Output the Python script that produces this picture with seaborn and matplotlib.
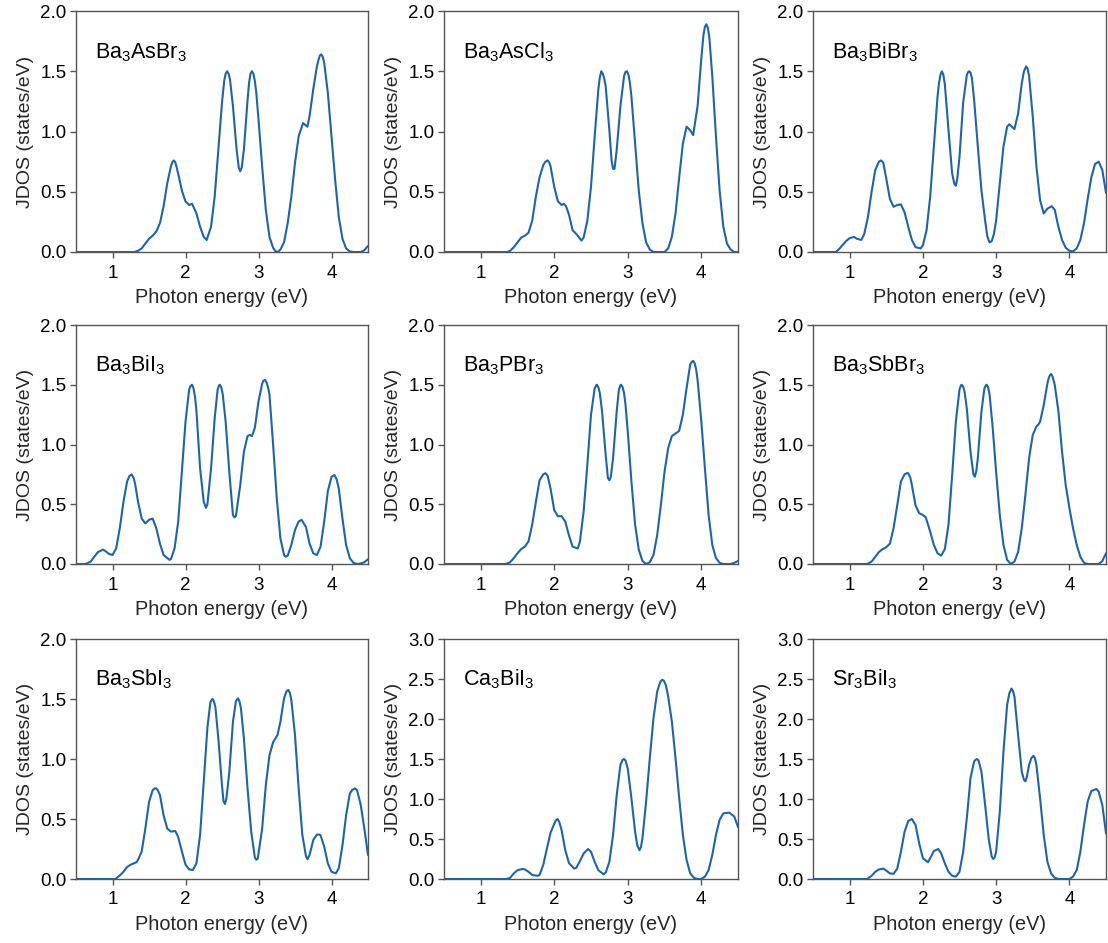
import numpy as np
import pandas as pd
import matplotlib
matplotlib.use("Agg")
import matplotlib.pyplot as plt
import seaborn as sns

# Joint density of states, (photon energy in eV, JDOS in states/eV)
ba3asbr3 = [(0.50, 0), (1.30, 0), (1.35, 0.01), (1.40, 0.03), (1.45, 0.07), (1.50, 0.11),
            (1.55, 0.135), (1.60, 0.17), (1.65, 0.24), (1.70, 0.38), (1.75, 0.57), (1.80, 0.71),
            (1.82, 0.745), (1.84, 0.76), (1.86, 0.745), (1.88, 0.70), (1.90, 0.65), (1.95, 0.51),
            (2.00, 0.42), (2.05, 0.39), (2.09, 0.40), (2.15, 0.32), (2.20, 0.21), (2.25, 0.125),
            (2.29, 0.10), (2.35, 0.21), (2.40, 0.46), (2.45, 0.85), (2.50, 1.24), (2.53, 1.42),
            (2.55, 1.48), (2.57, 1.50), (2.59, 1.48), (2.61, 1.43), (2.65, 1.21), (2.70, 0.85),
            (2.73, 0.70), (2.75, 0.67), (2.77, 0.70), (2.80, 0.85), (2.85, 1.26), (2.87, 1.40),
            (2.89, 1.48), (2.91, 1.50), (2.93, 1.48), (2.95, 1.42), (2.97, 1.32), (3.00, 1.10),
            (3.05, 0.71), (3.10, 0.35), (3.15, 0.125), (3.20, 0.035), (3.23, 0.008), (3.26, 0),
            (3.30, 0.02), (3.35, 0.08), (3.40, 0.24), (3.45, 0.46), (3.50, 0.74), (3.55, 0.96),
            (3.61, 1.07), (3.67, 1.04), (3.70, 1.13), (3.75, 1.35), (3.80, 1.54), (3.82, 1.59),
            (3.84, 1.63), (3.86, 1.64), (3.88, 1.62), (3.90, 1.57), (3.95, 1.32), (4.00, 0.96),
            (4.05, 0.60), (4.10, 0.29), (4.15, 0.11), (4.20, 0.03), (4.25, 0.005), (4.30, 0),
            (4.40, 0), (4.45, 0.015), (4.50, 0.05)]

ba3ascl3 = [(0.50, 0), (1.36, 0), (1.40, 0.01), (1.45, 0.04), (1.50, 0.08), (1.55, 0.12),
            (1.60, 0.135), (1.65, 0.16), (1.70, 0.26), (1.75, 0.46), (1.80, 0.62), (1.85, 0.72),
            (1.88, 0.75), (1.91, 0.76), (1.93, 0.745), (1.95, 0.71), (2.00, 0.54), (2.05, 0.42),
            (2.10, 0.39), (2.13, 0.40), (2.16, 0.38), (2.20, 0.31), (2.25, 0.18), (2.30, 0.15),
            (2.37, 0.095), (2.40, 0.12), (2.45, 0.26), (2.50, 0.54), (2.55, 0.96), (2.60, 1.35),
            (2.62, 1.45), (2.64, 1.50), (2.66, 1.48), (2.68, 1.44), (2.70, 1.375), (2.75, 1.01),
            (2.78, 0.76), (2.80, 0.69), (2.82, 0.69), (2.85, 0.85), (2.90, 1.21), (2.95, 1.46),
            (2.97, 1.495), (2.99, 1.50), (3.01, 1.47), (3.03, 1.40), (3.05, 1.29), (3.10, 0.90),
            (3.15, 0.51), (3.20, 0.24), (3.25, 0.08), (3.30, 0.02), (3.35, 0), (3.50, 0),
            (3.55, 0.03), (3.60, 0.125), (3.65, 0.32), (3.70, 0.62), (3.75, 0.90), (3.80, 1.04),
            (3.85, 1.01), (3.89, 0.97), (3.95, 1.21), (4.00, 1.60), (4.03, 1.80), (4.05, 1.87),
            (4.07, 1.89), (4.09, 1.86), (4.11, 1.78), (4.15, 1.46), (4.20, 0.96), (4.25, 0.51),
            (4.30, 0.21), (4.35, 0.07), (4.40, 0.02), (4.45, 0), (4.50, 0)]

ba3bibr3 = [(0.50, 0), (0.81, 0), (0.85, 0.02), (0.90, 0.055), (0.95, 0.09), (1.00, 0.115),
            (1.06, 0.125), (1.10, 0.11), (1.16, 0.10), (1.20, 0.15), (1.25, 0.29), (1.30, 0.50),
            (1.35, 0.68), (1.40, 0.75), (1.43, 0.76), (1.46, 0.74), (1.50, 0.61), (1.55, 0.44),
            (1.60, 0.375), (1.65, 0.39), (1.70, 0.395), (1.75, 0.33), (1.80, 0.21), (1.85, 0.10),
            (1.90, 0.04), (1.97, 0.03), (2.00, 0.055), (2.05, 0.18), (2.10, 0.46), (2.15, 0.875),
            (2.20, 1.29), (2.22, 1.40), (2.24, 1.47), (2.26, 1.50), (2.28, 1.47), (2.30, 1.39),
            (2.35, 1.01), (2.40, 0.65), (2.43, 0.565), (2.45, 0.55), (2.47, 0.61), (2.50, 0.79),
            (2.55, 1.24), (2.60, 1.47), (2.62, 1.495), (2.63, 1.50), (2.65, 1.49), (2.67, 1.44),
            (2.70, 1.26), (2.75, 0.875), (2.80, 0.51), (2.85, 0.26), (2.88, 0.13), (2.91, 0.08),
            (2.94, 0.09), (2.97, 0.15), (3.00, 0.26), (3.05, 0.57), (3.10, 0.875), (3.15, 1.04),
            (3.18, 1.06), (3.25, 1.02), (3.30, 1.15), (3.35, 1.40), (3.38, 1.50), (3.41, 1.54),
            (3.43, 1.52), (3.45, 1.46), (3.50, 1.125), (3.55, 0.71), (3.60, 0.43), (3.65, 0.32),
            (3.70, 0.36), (3.76, 0.38), (3.80, 0.35), (3.85, 0.21), (3.90, 0.10), (3.95, 0.035),
            (4.00, 0.01), (4.05, 0.005), (4.10, 0.03), (4.15, 0.10), (4.20, 0.24), (4.25, 0.44),
            (4.30, 0.62), (4.35, 0.73), (4.40, 0.75), (4.45, 0.68), (4.50, 0.49)]

ba3bii3 = [(0.50, 0), (0.62, 0), (0.65, 0.005), (0.70, 0.02), (0.75, 0.06), (0.80, 0.10),
           (0.87, 0.12), (0.90, 0.11), (0.95, 0.085), (1.00, 0.075), (1.05, 0.13), (1.10, 0.30),
           (1.15, 0.52), (1.20, 0.69), (1.23, 0.735), (1.26, 0.75), (1.29, 0.72), (1.31, 0.67),
           (1.35, 0.52), (1.40, 0.38), (1.45, 0.34), (1.50, 0.37), (1.55, 0.38), (1.60, 0.30),
           (1.65, 0.17), (1.70, 0.075), (1.78, 0.035), (1.80, 0.04), (1.85, 0.13), (1.90, 0.355),
           (1.95, 0.77), (2.00, 1.19), (2.05, 1.46), (2.07, 1.49), (2.09, 1.50), (2.11, 1.47),
           (2.13, 1.40), (2.15, 1.28), (2.20, 0.80), (2.25, 0.52), (2.28, 0.47), (2.30, 0.50),
           (2.35, 0.80), (2.40, 1.22), (2.44, 1.46), (2.46, 1.495), (2.47, 1.50), (2.49, 1.48),
           (2.51, 1.42), (2.55, 1.19), (2.60, 0.77), (2.65, 0.41), (2.67, 0.39), (2.69, 0.40),
           (2.75, 0.66), (2.80, 0.94), (2.85, 1.07), (2.88, 1.08), (2.91, 1.07), (2.95, 1.14),
           (3.00, 1.36), (3.05, 1.51), (3.07, 1.535), (3.09, 1.54), (3.11, 1.52), (3.13, 1.48),
           (3.15, 1.42), (3.20, 1.00), (3.25, 0.55), (3.30, 0.215), (3.35, 0.075), (3.37, 0.06),
           (3.40, 0.07), (3.45, 0.16), (3.50, 0.285), (3.55, 0.355), (3.59, 0.37), (3.65, 0.31),
           (3.70, 0.17), (3.75, 0.09), (3.80, 0.075), (3.85, 0.145), (3.90, 0.355), (3.95, 0.61),
           (4.00, 0.73), (4.04, 0.745), (4.07, 0.71), (4.10, 0.63), (4.15, 0.38), (4.20, 0.16),
           (4.25, 0.05), (4.30, 0.01), (4.35, 0), (4.40, 0.005), (4.45, 0.015), (4.50, 0.04)]

ba3pbr3 = [(0.50, 0), (1.34, 0), (1.40, 0.015), (1.45, 0.05), (1.50, 0.09), (1.55, 0.125),
           (1.60, 0.145), (1.65, 0.19), (1.70, 0.33), (1.75, 0.52), (1.80, 0.70), (1.85, 0.75),
           (1.88, 0.76), (1.91, 0.74), (1.95, 0.63), (2.00, 0.45), (2.05, 0.40), (2.10, 0.40),
           (2.15, 0.355), (2.20, 0.24), (2.25, 0.145), (2.32, 0.13), (2.35, 0.19), (2.40, 0.44),
           (2.45, 0.83), (2.50, 1.25), (2.55, 1.47), (2.57, 1.495), (2.58, 1.50), (2.60, 1.48),
           (2.62, 1.43), (2.65, 1.28), (2.70, 0.91), (2.73, 0.72), (2.75, 0.70), (2.77, 0.73),
           (2.80, 0.885), (2.85, 1.28), (2.88, 1.46), (2.90, 1.495), (2.91, 1.50), (2.93, 1.48),
           (2.95, 1.43), (2.97, 1.33), (3.00, 1.11), (3.05, 0.69), (3.10, 0.33), (3.15, 0.12),
           (3.20, 0.025), (3.25, 0), (3.30, 0.015), (3.35, 0.075), (3.40, 0.24), (3.45, 0.49),
           (3.50, 0.77), (3.55, 0.97), (3.60, 1.07), (3.67, 1.10), (3.70, 1.115), (3.75, 1.25),
           (3.80, 1.47), (3.85, 1.67), (3.87, 1.69), (3.89, 1.70), (3.91, 1.68), (3.93, 1.63),
           (3.95, 1.54), (4.00, 1.20), (4.05, 0.80), (4.10, 0.41), (4.15, 0.16), (4.20, 0.05),
           (4.25, 0.01), (4.30, 0), (4.40, 0), (4.45, 0.01), (4.50, 0.025)]

ba3sbbr3 = [(0.50, 0), (1.24, 0), (1.30, 0.02), (1.35, 0.06), (1.40, 0.10), (1.45, 0.125),
            (1.49, 0.135), (1.55, 0.17), (1.60, 0.30), (1.65, 0.49), (1.70, 0.69), (1.75, 0.75),
            (1.78, 0.76), (1.80, 0.76), (1.83, 0.72), (1.85, 0.66), (1.90, 0.49), (1.95, 0.425),
            (2.00, 0.41), (2.04, 0.39), (2.10, 0.27), (2.15, 0.16), (2.20, 0.09), (2.25, 0.07),
            (2.30, 0.125), (2.35, 0.33), (2.40, 0.745), (2.45, 1.19), (2.50, 1.46), (2.52, 1.495),
            (2.53, 1.50), (2.55, 1.485), (2.57, 1.44), (2.60, 1.30), (2.65, 0.94), (2.69, 0.75),
            (2.71, 0.73), (2.73, 0.78), (2.75, 0.885), (2.80, 1.28), (2.84, 1.47), (2.86, 1.495),
            (2.87, 1.50), (2.89, 1.48), (2.91, 1.42), (2.95, 1.165), (3.00, 0.77), (3.05, 0.41),
            (3.10, 0.16), (3.15, 0.035), (3.20, 0), (3.25, 0.02), (3.30, 0.10), (3.35, 0.30),
            (3.40, 0.58), (3.45, 0.885), (3.50, 1.08), (3.55, 1.15), (3.58, 1.17), (3.60, 1.19),
            (3.65, 1.33), (3.70, 1.51), (3.72, 1.56), (3.74, 1.585), (3.75, 1.59), (3.77, 1.57),
            (3.80, 1.50), (3.85, 1.28), (3.90, 0.94), (3.95, 0.66), (4.00, 0.47), (4.05, 0.30),
            (4.10, 0.16), (4.15, 0.06), (4.20, 0.01), (4.25, 0), (4.40, 0), (4.45, 0.025),
            (4.50, 0.09)]

ba3sbi3 = [(0.50, 0), (1.04, 0), (1.10, 0.03), (1.15, 0.06), (1.20, 0.10), (1.25, 0.12),
           (1.33, 0.14), (1.35, 0.16), (1.40, 0.23), (1.45, 0.42), (1.50, 0.64), (1.55, 0.74),
           (1.58, 0.755), (1.60, 0.755), (1.62, 0.74), (1.65, 0.70), (1.70, 0.53), (1.75, 0.42),
           (1.80, 0.395), (1.86, 0.40), (1.90, 0.35), (1.95, 0.23), (2.00, 0.12), (2.05, 0.08),
           (2.10, 0.075), (2.15, 0.13), (2.20, 0.37), (2.25, 0.81), (2.30, 1.26), (2.34, 1.47),
           (2.36, 1.495), (2.37, 1.50), (2.39, 1.48), (2.41, 1.43), (2.45, 1.17), (2.50, 0.78),
           (2.52, 0.65), (2.54, 0.625), (2.56, 0.67), (2.60, 0.89), (2.65, 1.31), (2.69, 1.48),
           (2.71, 1.50), (2.72, 1.505), (2.74, 1.48), (2.76, 1.42), (2.80, 1.17), (2.85, 0.755),
           (2.90, 0.395), (2.95, 0.18), (2.97, 0.16), (2.99, 0.17), (3.05, 0.42), (3.10, 0.78),
           (3.15, 1.03), (3.20, 1.14), (3.26, 1.20), (3.30, 1.31), (3.35, 1.505), (3.38, 1.56),
           (3.40, 1.573), (3.41, 1.575), (3.43, 1.55), (3.45, 1.49), (3.50, 1.20), (3.55, 0.755),
           (3.60, 0.37), (3.65, 0.19), (3.67, 0.165), (3.70, 0.20), (3.75, 0.325), (3.80, 0.37),
           (3.83, 0.37), (3.85, 0.365), (3.90, 0.27), (3.95, 0.13), (4.00, 0.06), (4.06, 0.047),
           (4.10, 0.09), (4.15, 0.28), (4.20, 0.53), (4.25, 0.71), (4.28, 0.74), (4.32, 0.755),
           (4.35, 0.74), (4.40, 0.62), (4.45, 0.42), (4.50, 0.20)]

ca3bii3 = [(0.50, 0), (1.35, 0), (1.40, 0.015), (1.45, 0.07), (1.50, 0.11), (1.57, 0.125),
           (1.60, 0.12), (1.65, 0.09), (1.70, 0.05), (1.77, 0.04), (1.80, 0.05), (1.85, 0.175),
           (1.90, 0.38), (1.95, 0.58), (2.00, 0.69), (2.02, 0.73), (2.045, 0.75), (2.07, 0.71),
           (2.10, 0.61), (2.15, 0.36), (2.20, 0.20), (2.27, 0.13), (2.30, 0.14), (2.35, 0.225),
           (2.40, 0.32), (2.46, 0.375), (2.50, 0.34), (2.55, 0.215), (2.60, 0.11), (2.67, 0.06),
           (2.70, 0.08), (2.75, 0.215), (2.80, 0.55), (2.85, 1.05), (2.90, 1.425), (2.93, 1.49),
           (2.95, 1.50), (2.97, 1.48), (3.00, 1.38), (3.05, 1.01), (3.10, 0.59), (3.13, 0.42),
           (3.16, 0.36), (3.18, 0.40), (3.20, 0.51), (3.25, 0.97), (3.30, 1.51), (3.35, 2.01),
           (3.40, 2.34), (3.43, 2.43), (3.45, 2.475), (3.47, 2.49), (3.49, 2.48), (3.52, 2.42),
           (3.55, 2.28), (3.60, 1.97), (3.65, 1.51), (3.70, 1.01), (3.75, 0.55), (3.80, 0.24),
           (3.85, 0.07), (3.90, 0.015), (3.95, 0), (4.00, 0), (4.05, 0.03), (4.10, 0.11),
           (4.15, 0.30), (4.20, 0.55), (4.25, 0.74), (4.30, 0.82), (4.38, 0.83), (4.45, 0.78),
           (4.50, 0.65)]

sr3bii3 = [(0.50, 0), (1.24, 0), (1.30, 0.04), (1.35, 0.09), (1.40, 0.12), (1.46, 0.13),
           (1.50, 0.105), (1.55, 0.07), (1.60, 0.065), (1.65, 0.13), (1.70, 0.34), (1.75, 0.59),
           (1.80, 0.725), (1.85, 0.75), (1.90, 0.675), (1.95, 0.445), (2.00, 0.26), (2.07, 0.21),
           (2.10, 0.26), (2.15, 0.35), (2.21, 0.375), (2.25, 0.32), (2.30, 0.195), (2.35, 0.09),
           (2.40, 0.04), (2.45, 0.03), (2.50, 0.09), (2.55, 0.34), (2.60, 0.76), (2.65, 1.26),
           (2.70, 1.47), (2.72, 1.49), (2.74, 1.50), (2.76, 1.48), (2.80, 1.34), (2.85, 0.925),
           (2.90, 0.49), (2.94, 0.28), (2.96, 0.25), (2.98, 0.27), (3.00, 0.34), (3.05, 0.84),
           (3.10, 1.59), (3.15, 2.175), (3.18, 2.32), (3.21, 2.38), (3.23, 2.35), (3.25, 2.28),
           (3.30, 1.80), (3.35, 1.34), (3.38, 1.24), (3.40, 1.22), (3.42, 1.28), (3.45, 1.425),
           (3.48, 1.51), (3.51, 1.54), (3.53, 1.51), (3.55, 1.425), (3.60, 1.01), (3.65, 0.55),
           (3.70, 0.215), (3.75, 0.07), (3.80, 0.015), (3.85, 0), (4.00, 0), (4.05, 0.03),
           (4.10, 0.11), (4.15, 0.34), (4.20, 0.675), (4.25, 0.97), (4.30, 1.10), (4.37, 1.125),
           (4.40, 1.09), (4.45, 0.925), (4.50, 0.57)]

compounds = [
    (r"Ba$_3$AsBr$_3$", ba3asbr3, 2.0),
    (r"Ba$_3$AsCl$_3$", ba3ascl3, 2.0),
    (r"Ba$_3$BiBr$_3$", ba3bibr3, 2.0),
    (r"Ba$_3$BiI$_3$", ba3bii3, 2.0),
    (r"Ba$_3$PBr$_3$", ba3pbr3, 2.0),
    (r"Ba$_3$SbBr$_3$", ba3sbbr3, 2.0),
    (r"Ba$_3$SbI$_3$", ba3sbi3, 2.0),
    (r"Ca$_3$BiI$_3$", ca3bii3, 3.0),
    (r"Sr$_3$BiI$_3$", sr3bii3, 3.0),
]

sns.set_style("ticks")
plt.rcParams["font.family"] = ["Liberation Sans", "DejaVu Sans"]
plt.rcParams["mathtext.fontset"] = "custom"
plt.rcParams["mathtext.rm"] = "Liberation Sans"
plt.rcParams["mathtext.it"] = "Liberation Sans:italic"
plt.rcParams["mathtext.bf"] = "Liberation Sans:bold"
plt.rcParams["axes.edgecolor"] = "#555555"
plt.rcParams["axes.linewidth"] = 1.0
plt.rcParams["xtick.color"] = "#555555"
plt.rcParams["ytick.color"] = "#555555"
plt.rcParams["xtick.labelcolor"] = "black"
plt.rcParams["ytick.labelcolor"] = "black"

W, H = 1108, 943
fig = plt.figure(figsize=(W / 100, H / 100), dpi=100)

col_left = [76, 444, 813]
col_width = [292, 294, 293]
row_top = [11, 325, 639]
row_height = [241, 239, 240]

line_color = "#1f63b0"

for i, (name, pts, ymax) in enumerate(compounds):
    r, c = divmod(i, 3)
    ax = fig.add_axes([col_left[c] / W, 1 - (row_top[r] + row_height[r]) / H,
                       col_width[c] / W, row_height[r] / H])
    df = pd.DataFrame(pts, columns=["energy", "jdos"])
    sns.lineplot(data=df, x="energy", y="jdos", ax=ax, color=line_color,
                 linewidth=1.5, estimator=None, sort=False)
    ax.lines[-1].set_solid_joinstyle("round")
    ax.set_xlim(0.5, 4.5)
    ax.set_ylim(0, ymax)
    ax.set_xticks([1, 2, 3, 4])
    ax.set_yticks(np.arange(0, ymax + 0.01, 0.5))
    ax.yaxis.set_major_formatter(matplotlib.ticker.FormatStrFormatter("%.1f"))
    ax.tick_params(axis="both", labelsize=13.5, length=4, width=1.0, direction="out",
                   top=False, right=False, pad=3)
    ax.tick_params(axis="x", pad=5)
    ax.set_xlabel("Photon energy (eV)", fontsize=14.3, labelpad=5)
    ax.set_ylabel("JDOS (states/eV)", fontsize=14, labelpad=4)
    for s in ax.spines.values():
        s.set_visible(True)
    ax.text(0.065, 0.805, name, transform=ax.transAxes, fontsize=15.5,
            va="baseline", ha="left", color="black")

fig.savefig("out.png", dpi=100)
